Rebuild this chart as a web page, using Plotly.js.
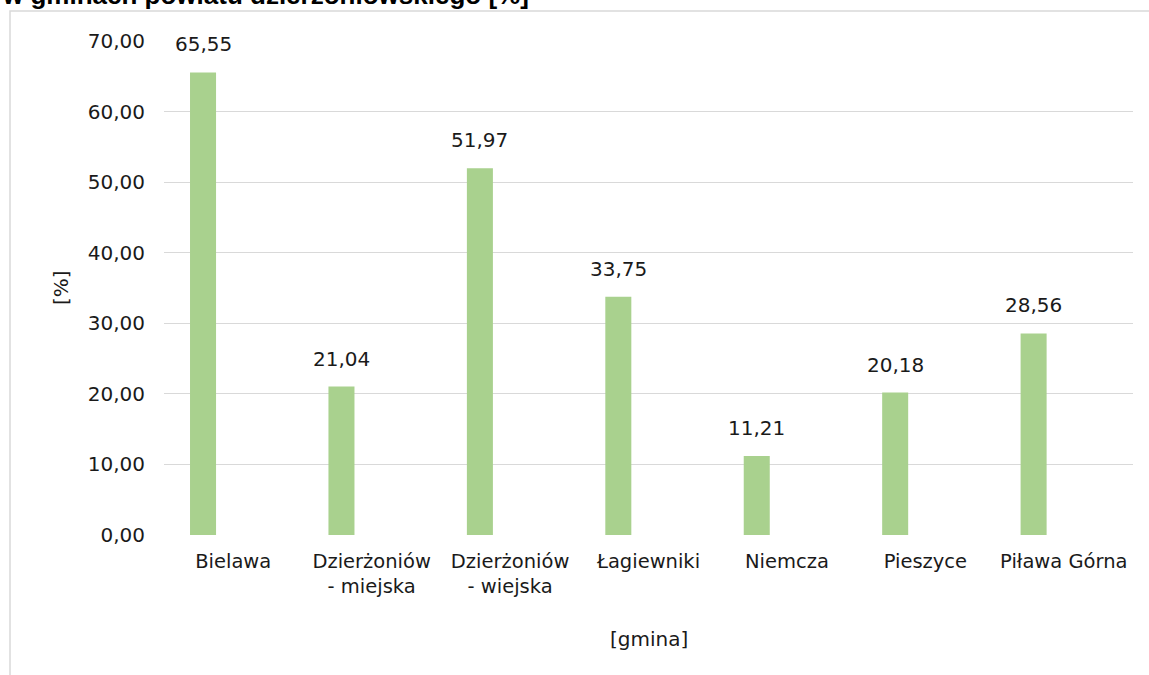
<!DOCTYPE html>
<html>
<head>
<meta charset="utf-8">
<script src="https://cdn.plot.ly/plotly-3.0.1.min.js"></script>
<style>html,body{margin:0;padding:0;background:#fff;}#chart{width:1149px;height:675px;}</style>
</head>
<body>
<div id="chart"></div>
<script>
const categories = ["Bielawa", "Dzierżoniów<br>- miejska", "Dzierżoniów<br>- wiejska", "Łagiewniki", "Niemcza", "Pieszyce", "Piława Górna"];
const values = [65.55, 21.04, 51.97, 33.75, 11.21, 20.18, 28.56];
const titleText = "w gminach powiatu dzierżoniowskiego [%]";
const xTitle = "[gmina]";
const yTitle = "[%]";

const W = 1149, H = 675;
const M = {l: 164, r: 16, t: 41, b: 140};
const plotW = W - M.l - M.r, plotH = H - M.t - M.b;
const barWidth = 0.188, barOffset = -0.312;
const catPx = plotW / categories.length;
const labelShift = (barOffset + barWidth / 2) * catPx;
const FONT = "DejaVu Sans";
const fmt = v => v.toFixed(2).replace('.', ',');

const trace = {
  type: 'bar',
  x: categories,
  y: values,
  width: barWidth,
  offset: barOffset,
  marker: {color: '#A9D18E'},
  hoverinfo: 'skip'
};

const annotations = categories.map((c, i) => ({
  x: c, y: values[i], xref: 'x', yref: 'y',
  text: fmt(values[i]), showarrow: false,
  xanchor: 'center', yanchor: 'bottom',
  xshift: labelShift, yshift: 14,
  font: {family: FONT, size: 20, color: '#1a1a1a'}
}));

annotations.push({
  xref: 'paper', yref: 'paper', x: -M.l / plotW, y: (plotH + M.t - 12) / plotH,
  xanchor: 'left', yanchor: 'bottom', showarrow: false,
  text: '<b>' + titleText + '</b>',
  font: {family: 'Liberation Sans', size: 26, color: '#000'}
});
annotations.push({
  xref: 'paper', yref: 'paper', x: 0.5, y: -(639 - (M.t + plotH)) / plotH,
  xanchor: 'center', yanchor: 'middle', showarrow: false,
  text: xTitle, font: {family: FONT, size: 20, color: '#1a1a1a'}
});
annotations.push({
  xref: 'paper', yref: 'paper', x: (61 - M.l) / plotW, y: 0.5,
  xanchor: 'center', yanchor: 'middle', showarrow: false, textangle: -90,
  text: yTitle, font: {family: FONT, size: 20, color: '#1a1a1a'}
});

const layout = {
  width: W, height: H,
  margin: M,
  paper_bgcolor: '#fff', plot_bgcolor: '#fff',
  separators: ', ',
  showlegend: false,
  xaxis: {
    type: 'category', showgrid: false, showline: false, zeroline: false,
    ticks: '', ticklabelstandoff: 12,
    tickfont: {family: FONT, size: 19.5, color: '#1a1a1a'}
  },
  yaxis: {
    range: [0, 70], dtick: 10, tickformat: '.2f',
    showgrid: true, gridcolor: '#d9d9d9', gridwidth: 1,
    zeroline: false, showline: false, ticks: '', ticklabelstandoff: 18,
    tickfont: {family: FONT, size: 20, color: '#1a1a1a'}
  },
  annotations: annotations,
  shapes: [{
    type: 'rect', xref: 'paper', yref: 'paper', layer: 'below',
    x0: (10 - M.l) / plotW, x1: 1.5,
    y0: -0.6, y1: (plotH + M.t - 11) / plotH,
    line: {color: '#d9d9d9', width: 1.5}, fillcolor: 'rgba(0,0,0,0)'
  }]
};

Plotly.newPlot('chart', [trace], layout, {displayModeBar: false, staticPlot: true});
</script>
</body>
</html>
